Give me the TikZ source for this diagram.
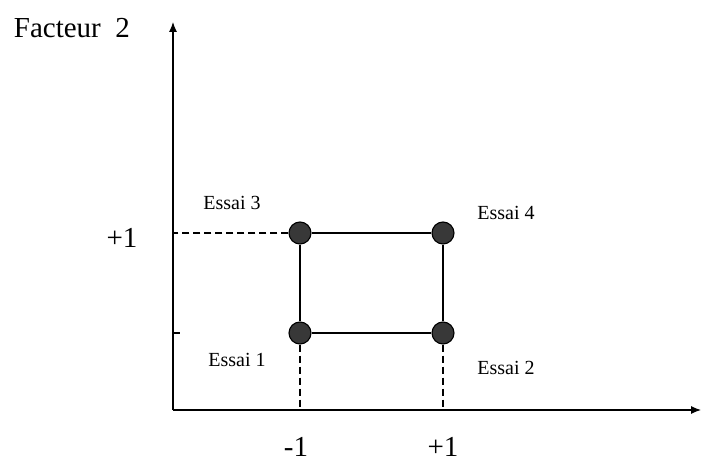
\documentclass[tikz,border=0pt]{standalone}
\usepackage{fontspec}
\setmainfont{Liberation Serif}
\usetikzlibrary{positioning, arrows.meta}

\tikzset{
  essai/.style={circle, draw=black, fill=black!78, inner sep=0pt, minimum size=22pt},
  tirets/.style={dash pattern=on 7pt off 4pt},
  petit/.style={font=\fontsize{20}{23}\selectfont},
  grand/.style={font=\fontsize{29}{34}\selectfont},
}

\begin{document}
\begin{tikzpicture}[>={Latex[length=10pt, width=8pt]}, x=1pt, y=-1pt, line width=1.1pt]
    \useasboundingbox (0,0) rectangle (701,462);

    % Axes
    \coordinate (O) at (173,410);
    \coordinate (xmax) at (701,410);
    \coordinate (ymax) at (173,22);
    \draw[->] (O) -- (xmax);
    \draw[->] (O) -- (ymax);
    \node[grand, anchor=base west] (f2) at (10,38) {Facteur~~2};

    % Les essais
    \foreach \n/\x/\y in {1/300/333, 2/443/333, 3/300/233, 4/443/233} {
        \node[essai] (e\n) at (\x,\y) {};
    }
    \draw (e1) -- (e2) -- (e4) -- (e3) -- (e1);

    % Projections sur les axes
    \draw[tirets] (e3) -- (e3 -| O);
    \draw[tirets] (e1) -- (e1 |- O);
    \draw[tirets] (e2) -- (e2 |- O);
    \draw (e1 -| O) -- ++(7,0);

    % Niveaux
    \node[grand] (yp) at (122,238) {+1};
    \node[grand] (xm) at (296,447) {-1};
    \node[grand] (xp) at (443,447) {+1};

    % Etiquettes
    \node[petit] (l3) at (232,203) {Essai 3};
    \node[petit] (l4) at (506,213) {Essai 4};
    \node[petit] (l1) at (237,360) {Essai 1};
    \node[petit] (l2) at (506,368) {Essai 2};
\end{tikzpicture}
\end{document}
